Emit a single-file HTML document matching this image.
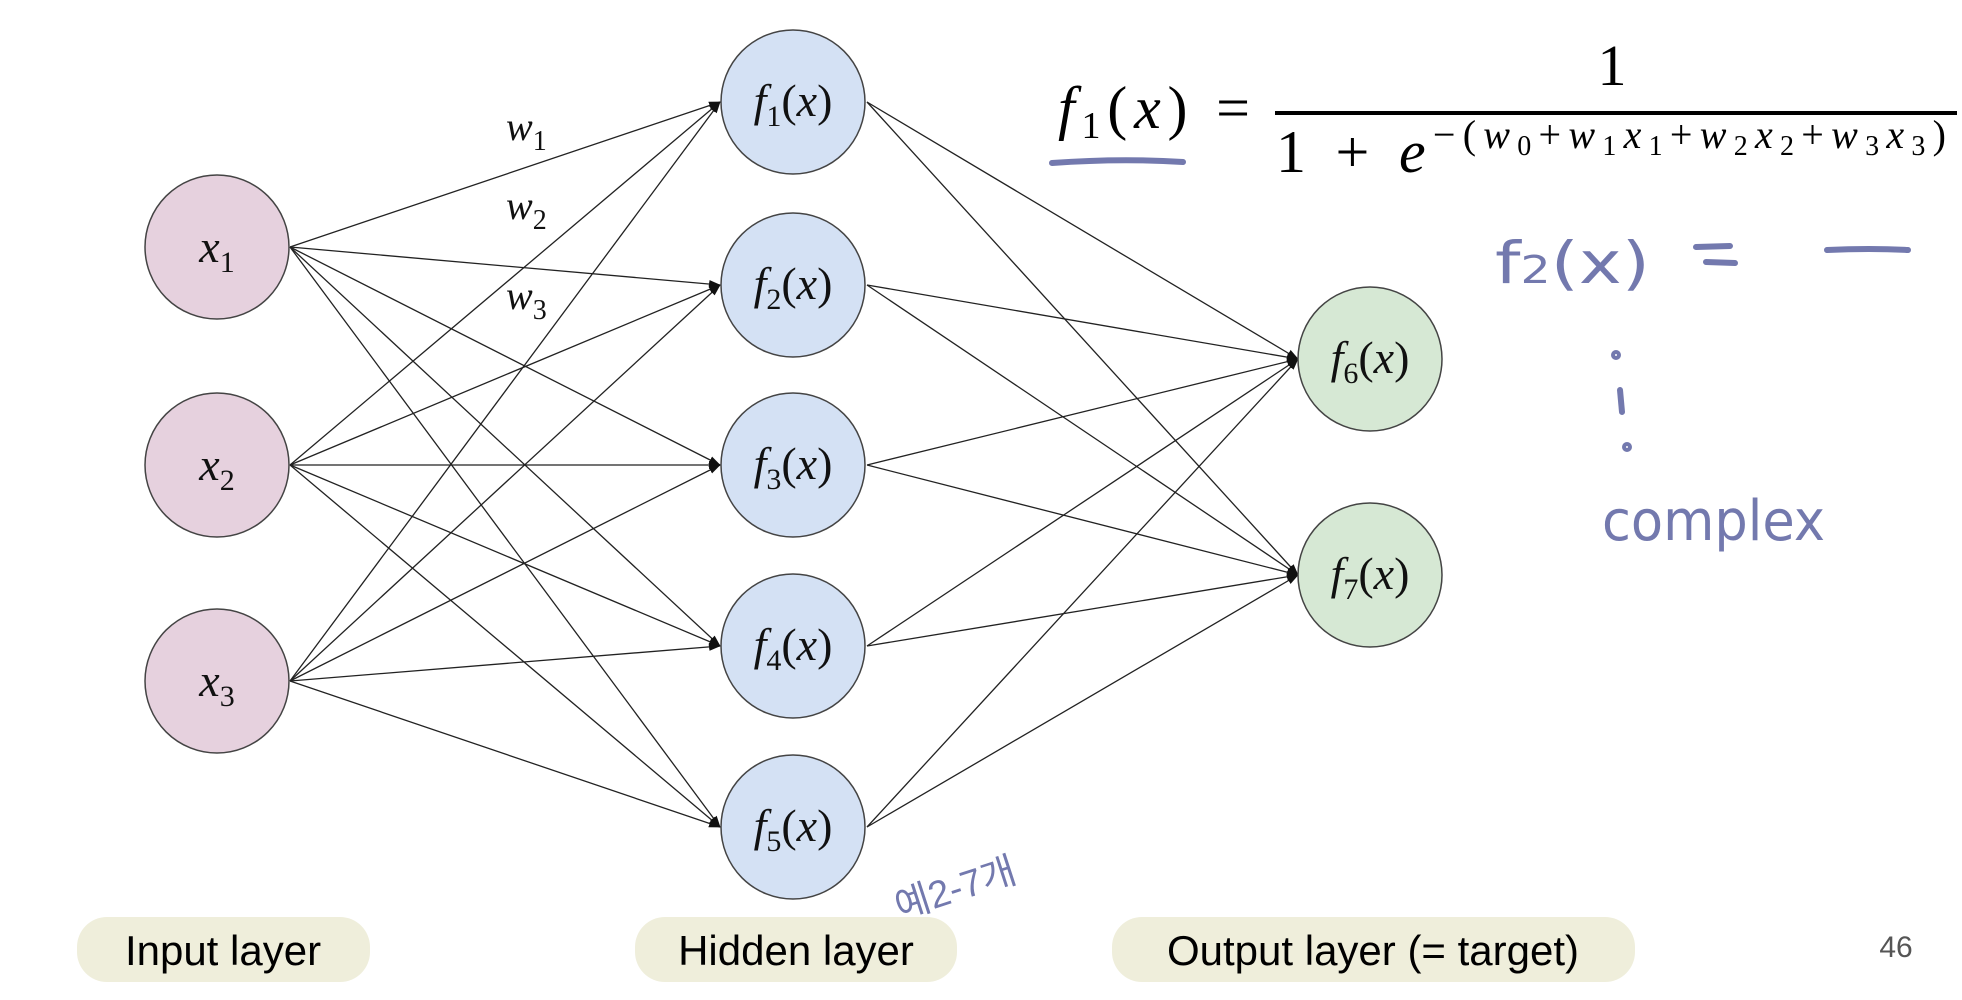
<!DOCTYPE html>
<html><head><meta charset="utf-8"><style>
html,body{margin:0;padding:0;background:#fff;}
svg{display:block;}
</style></head><body>
<svg width="1962" height="1000" viewBox="0 0 1962 1000" xmlns="http://www.w3.org/2000/svg">
<defs>
<marker id="a" markerWidth="12" markerHeight="10" refX="11" refY="5" orient="auto" markerUnits="userSpaceOnUse">
<path d="M0,1 L12,5 L0,9 z" fill="#111"/>
</marker>
</defs>
<g stroke="#222" stroke-width="1.3" fill="none" marker-end="url(#a)">
<line x1="290" y1="247" x2="720" y2="102"/><line x1="290" y1="247" x2="720" y2="285"/><line x1="290" y1="247" x2="720" y2="465"/><line x1="290" y1="247" x2="720" y2="646"/><line x1="290" y1="247" x2="720" y2="827"/>
<line x1="290" y1="465" x2="720" y2="102"/><line x1="290" y1="465" x2="720" y2="285"/><line x1="290" y1="465" x2="720" y2="465"/><line x1="290" y1="465" x2="720" y2="646"/><line x1="290" y1="465" x2="720" y2="827"/>
<line x1="290" y1="681" x2="720" y2="102"/><line x1="290" y1="681" x2="720" y2="285"/><line x1="290" y1="681" x2="720" y2="465"/><line x1="290" y1="681" x2="720" y2="646"/><line x1="290" y1="681" x2="720" y2="827"/>
<line x1="867" y1="102" x2="1298" y2="359"/><line x1="867" y1="285" x2="1298" y2="359"/><line x1="867" y1="465" x2="1298" y2="359"/><line x1="867" y1="646" x2="1298" y2="359"/><line x1="867" y1="827" x2="1298" y2="359"/>
<line x1="867" y1="102" x2="1298" y2="575"/><line x1="867" y1="285" x2="1298" y2="575"/><line x1="867" y1="465" x2="1298" y2="575"/><line x1="867" y1="646" x2="1298" y2="575"/><line x1="867" y1="827" x2="1298" y2="575"/>
</g>
<g stroke="#444" stroke-width="1.5">
<ellipse cx="217" cy="247" rx="72" ry="72" fill="#e6d1de"/>
<ellipse cx="217" cy="465" rx="72" ry="72" fill="#e6d1de"/>
<ellipse cx="217" cy="681" rx="72" ry="72" fill="#e6d1de"/>
<ellipse cx="793" cy="102" rx="72" ry="72" fill="#d4e1f4"/>
<ellipse cx="793" cy="285" rx="72" ry="72" fill="#d4e1f4"/>
<ellipse cx="793" cy="465" rx="72" ry="72" fill="#d4e1f4"/>
<ellipse cx="793" cy="646" rx="72" ry="72" fill="#d4e1f4"/>
<ellipse cx="793" cy="827" rx="72" ry="72" fill="#d4e1f4"/>
<ellipse cx="1370" cy="359" rx="72" ry="72" fill="#d6e8d4"/>
<ellipse cx="1370" cy="575" rx="72" ry="72" fill="#d6e8d4"/>
</g>
<g font-family="Liberation Serif, serif" font-style="italic" font-size="46" fill="#111" text-anchor="middle">
<text x="217" y="262">x<tspan font-size="30" font-style="normal" dy="10">1</tspan></text>
<text x="217" y="480">x<tspan font-size="30" font-style="normal" dy="10">2</tspan></text>
<text x="217" y="696">x<tspan font-size="30" font-style="normal" dy="10">3</tspan></text>
<text x="793" y="116">f<tspan font-size="30" font-style="normal" dy="10">1</tspan><tspan font-style="normal" dy="-10">(</tspan>x<tspan font-style="normal">)</tspan></text>
<text x="793" y="299">f<tspan font-size="30" font-style="normal" dy="10">2</tspan><tspan font-style="normal" dy="-10">(</tspan>x<tspan font-style="normal">)</tspan></text>
<text x="793" y="479">f<tspan font-size="30" font-style="normal" dy="10">3</tspan><tspan font-style="normal" dy="-10">(</tspan>x<tspan font-style="normal">)</tspan></text>
<text x="793" y="660">f<tspan font-size="30" font-style="normal" dy="10">4</tspan><tspan font-style="normal" dy="-10">(</tspan>x<tspan font-style="normal">)</tspan></text>
<text x="793" y="841">f<tspan font-size="30" font-style="normal" dy="10">5</tspan><tspan font-style="normal" dy="-10">(</tspan>x<tspan font-style="normal">)</tspan></text>
<text x="1370" y="373">f<tspan font-size="30" font-style="normal" dy="10">6</tspan><tspan font-style="normal" dy="-10">(</tspan>x<tspan font-style="normal">)</tspan></text>
<text x="1370" y="589">f<tspan font-size="30" font-style="normal" dy="10">7</tspan><tspan font-style="normal" dy="-10">(</tspan>x<tspan font-style="normal">)</tspan></text>
</g>
<g font-family="Liberation Serif, serif" font-style="italic" font-size="40" fill="#111">
<text x="506" y="140">w<tspan font-size="28" font-style="normal" dy="10">1</tspan></text>
<text x="506" y="219">w<tspan font-size="28" font-style="normal" dy="10">2</tspan></text>
<text x="506" y="309">w<tspan font-size="28" font-style="normal" dy="10">3</tspan></text>
</g>
<!-- formula -->
<g font-family="Liberation Serif, serif" fill="#000">
<text x="1058" y="128" font-size="60" font-style="italic" textLength="192" lengthAdjust="spacing">f<tspan font-size="38" font-style="normal" dy="10">1</tspan><tspan font-style="normal" dy="-10">(</tspan>x<tspan font-style="normal">)</tspan><tspan font-style="normal"> =</tspan></text>
<text x="1612" y="85" font-size="58" text-anchor="middle">1</text>
<rect x="1275" y="111" width="682" height="4" fill="#000"/>
<text x="1276" y="172" font-size="60" textLength="670" lengthAdjust="spacing">1 + <tspan font-style="italic">e</tspan><tspan font-size="40" dy="-24">−(<tspan font-style="italic">w</tspan><tspan font-size="28" dy="7">0</tspan><tspan dy="-7">+</tspan><tspan font-style="italic">w</tspan><tspan font-size="28" dy="7">1</tspan><tspan font-style="italic" dy="-7">x</tspan><tspan font-size="28" dy="7">1</tspan><tspan dy="-7">+</tspan><tspan font-style="italic">w</tspan><tspan font-size="28" dy="7">2</tspan><tspan font-style="italic" dy="-7">x</tspan><tspan font-size="28" dy="7">2</tspan><tspan dy="-7">+</tspan><tspan font-style="italic">w</tspan><tspan font-size="28" dy="7">3</tspan><tspan font-style="italic" dy="-7">x</tspan><tspan font-size="28" dy="7">3</tspan><tspan dy="-7">)</tspan></tspan></text>
</g>
<!-- handwriting -->
<g stroke="#7379ae" stroke-width="6" stroke-linecap="round" fill="none">
<path d="M1052,163 Q1120,158 1183,162"/>
<path d="M1827,250 Q1870,248 1908,250"/>
<path d="M1696,247 L1730,246 M1706,262 L1735,263"/>
<circle cx="1616" cy="355" r="2"/>
<path d="M1620,390 L1622,412"/>
<circle cx="1627" cy="447" r="2"/>
</g>
<g font-family="DejaVu Sans, sans-serif" fill="#7379ae">
<text x="1495" y="283" font-size="58" textLength="155" lengthAdjust="spacingAndGlyphs">f<tspan font-size="38">2</tspan>(x)</text>
<text x="1602" y="540" font-size="56" textLength="223" lengthAdjust="spacingAndGlyphs">complex</text>
<text x="900" y="920" font-size="38" font-family="Liberation Sans, 'Noto Sans CJK KR', sans-serif" transform="rotate(-18 900 920)">예2-7개</text>
</g>
<g fill="#efeedb">
<rect x="77" y="917" width="293" height="65" rx="30"/>
<rect x="635" y="917" width="322" height="65" rx="30"/>
<rect x="1112" y="917" width="523" height="65" rx="30"/>
</g>
<g font-family="Liberation Sans, sans-serif" font-size="42" fill="#000" text-anchor="middle">
<text x="223" y="965">Input layer</text>
<text x="796" y="965">Hidden layer</text>
<text x="1373" y="965">Output layer (= target)</text>
</g>
<text x="1896" y="957" font-family="Liberation Sans, sans-serif" font-size="30" fill="#555" text-anchor="middle">46</text>
</svg>
</body></html>
